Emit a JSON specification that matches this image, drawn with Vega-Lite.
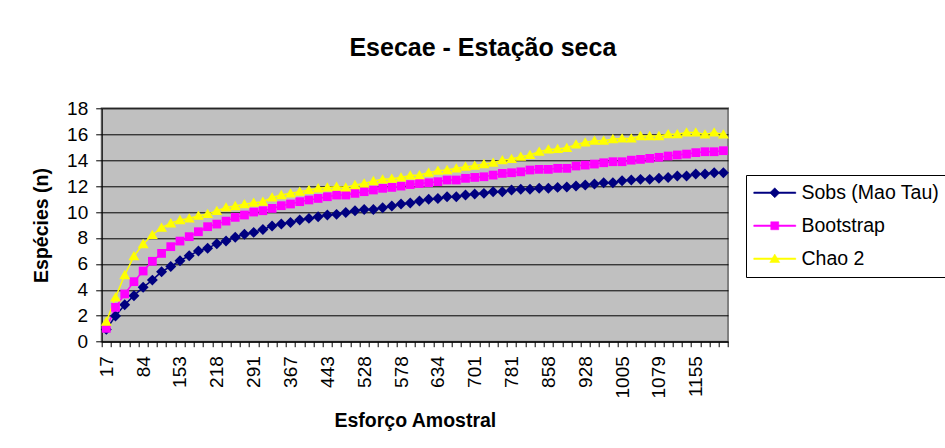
{
  "$schema": "https://vega.github.io/schema/vega-lite/v6.json",
  "autosize": {"type": "none"},
  "width": 626.3,
  "height": 233.4,
  "padding": {"left": 101.7, "top": 108.3, "right": 217, "bottom": 106.3},
  "background": "white",
  "config": {
    "font": "Liberation Sans",
    "view": {"fill": "#C0C0C0", "stroke": "#808080", "strokeWidth": 2}
  },
  "title": {
    "text": "Esecae - Estação seca",
    "anchor": "middle",
    "frame": "group",
    "dx": 68,
    "offset": 38,
    "fontSize": 25,
    "fontWeight": "bold",
    "font": "Liberation Sans",
    "color": "black"
  },
  "data": {
    "values": [
      {"e":17,"s":"Sobs (Mao Tau)","n":0.95},{"e":34,"s":"Sobs (Mao Tau)","n":1.98},{"e":51,"s":"Sobs (Mao Tau)","n":2.85},{"e":67,"s":"Sobs (Mao Tau)","n":3.55},
      {"e":84,"s":"Sobs (Mao Tau)","n":4.2},{"e":101,"s":"Sobs (Mao Tau)","n":4.75},{"e":119,"s":"Sobs (Mao Tau)","n":5.4},{"e":136,"s":"Sobs (Mao Tau)","n":5.8},
      {"e":153,"s":"Sobs (Mao Tau)","n":6.25},{"e":169,"s":"Sobs (Mao Tau)","n":6.63},{"e":186,"s":"Sobs (Mao Tau)","n":7.0},{"e":202,"s":"Sobs (Mao Tau)","n":7.2},
      {"e":218,"s":"Sobs (Mao Tau)","n":7.56},{"e":236,"s":"Sobs (Mao Tau)","n":7.76},{"e":254,"s":"Sobs (Mao Tau)","n":8.05},{"e":273,"s":"Sobs (Mao Tau)","n":8.28},
      {"e":291,"s":"Sobs (Mao Tau)","n":8.43},{"e":310,"s":"Sobs (Mao Tau)","n":8.65},{"e":329,"s":"Sobs (Mao Tau)","n":8.92},{"e":348,"s":"Sobs (Mao Tau)","n":9.07},
      {"e":367,"s":"Sobs (Mao Tau)","n":9.2},{"e":386,"s":"Sobs (Mao Tau)","n":9.38},{"e":405,"s":"Sobs (Mao Tau)","n":9.51},{"e":424,"s":"Sobs (Mao Tau)","n":9.64},
      {"e":443,"s":"Sobs (Mao Tau)","n":9.77},{"e":464,"s":"Sobs (Mao Tau)","n":9.82},{"e":486,"s":"Sobs (Mao Tau)","n":9.97},{"e":507,"s":"Sobs (Mao Tau)","n":10.1},
      {"e":528,"s":"Sobs (Mao Tau)","n":10.2},{"e":541,"s":"Sobs (Mao Tau)","n":10.2},{"e":553,"s":"Sobs (Mao Tau)","n":10.33},{"e":566,"s":"Sobs (Mao Tau)","n":10.46},
      {"e":578,"s":"Sobs (Mao Tau)","n":10.62},{"e":592,"s":"Sobs (Mao Tau)","n":10.7},{"e":606,"s":"Sobs (Mao Tau)","n":10.85},{"e":620,"s":"Sobs (Mao Tau)","n":10.98},
      {"e":634,"s":"Sobs (Mao Tau)","n":11.05},{"e":651,"s":"Sobs (Mao Tau)","n":11.18},{"e":668,"s":"Sobs (Mao Tau)","n":11.18},{"e":684,"s":"Sobs (Mao Tau)","n":11.31},
      {"e":701,"s":"Sobs (Mao Tau)","n":11.39},{"e":721,"s":"Sobs (Mao Tau)","n":11.44},{"e":741,"s":"Sobs (Mao Tau)","n":11.57},{"e":761,"s":"Sobs (Mao Tau)","n":11.57},
      {"e":781,"s":"Sobs (Mao Tau)","n":11.7},{"e":800,"s":"Sobs (Mao Tau)","n":11.75},{"e":820,"s":"Sobs (Mao Tau)","n":11.75},{"e":839,"s":"Sobs (Mao Tau)","n":11.83},
      {"e":858,"s":"Sobs (Mao Tau)","n":11.83},{"e":876,"s":"Sobs (Mao Tau)","n":11.9},{"e":893,"s":"Sobs (Mao Tau)","n":11.93},{"e":911,"s":"Sobs (Mao Tau)","n":12.0},
      {"e":928,"s":"Sobs (Mao Tau)","n":12.08},{"e":947,"s":"Sobs (Mao Tau)","n":12.16},{"e":967,"s":"Sobs (Mao Tau)","n":12.26},{"e":986,"s":"Sobs (Mao Tau)","n":12.26},
      {"e":1005,"s":"Sobs (Mao Tau)","n":12.42},{"e":1024,"s":"Sobs (Mao Tau)","n":12.47},{"e":1042,"s":"Sobs (Mao Tau)","n":12.52},{"e":1061,"s":"Sobs (Mao Tau)","n":12.52},
      {"e":1079,"s":"Sobs (Mao Tau)","n":12.6},{"e":1098,"s":"Sobs (Mao Tau)","n":12.67},{"e":1117,"s":"Sobs (Mao Tau)","n":12.78},{"e":1136,"s":"Sobs (Mao Tau)","n":12.78},
      {"e":1155,"s":"Sobs (Mao Tau)","n":12.93},{"e":1174,"s":"Sobs (Mao Tau)","n":12.93},{"e":1193,"s":"Sobs (Mao Tau)","n":13.03},{"e":1212,"s":"Sobs (Mao Tau)","n":13.03},

      {"e":17,"s":"Bootstrap","n":1.03},{"e":34,"s":"Bootstrap","n":2.65},{"e":51,"s":"Bootstrap","n":3.68},{"e":67,"s":"Bootstrap","n":4.63},
      {"e":84,"s":"Bootstrap","n":5.45},{"e":101,"s":"Bootstrap","n":6.2},{"e":119,"s":"Bootstrap","n":6.81},{"e":136,"s":"Bootstrap","n":7.33},
      {"e":153,"s":"Bootstrap","n":7.76},{"e":169,"s":"Bootstrap","n":8.1},{"e":186,"s":"Bootstrap","n":8.48},{"e":202,"s":"Bootstrap","n":8.87},
      {"e":218,"s":"Bootstrap","n":9.07},{"e":236,"s":"Bootstrap","n":9.3},{"e":254,"s":"Bootstrap","n":9.59},{"e":273,"s":"Bootstrap","n":9.77},
      {"e":291,"s":"Bootstrap","n":10.0},{"e":310,"s":"Bootstrap","n":10.1},{"e":329,"s":"Bootstrap","n":10.28},{"e":348,"s":"Bootstrap","n":10.49},
      {"e":367,"s":"Bootstrap","n":10.62},{"e":386,"s":"Bootstrap","n":10.8},{"e":405,"s":"Bootstrap","n":10.93},{"e":424,"s":"Bootstrap","n":11.05},
      {"e":443,"s":"Bootstrap","n":11.18},{"e":464,"s":"Bootstrap","n":11.31},{"e":486,"s":"Bootstrap","n":11.31},{"e":507,"s":"Bootstrap","n":11.44},
      {"e":528,"s":"Bootstrap","n":11.57},{"e":541,"s":"Bootstrap","n":11.7},{"e":553,"s":"Bootstrap","n":11.83},{"e":566,"s":"Bootstrap","n":11.9},
      {"e":578,"s":"Bootstrap","n":12.0},{"e":592,"s":"Bootstrap","n":12.12},{"e":606,"s":"Bootstrap","n":12.2},{"e":620,"s":"Bootstrap","n":12.26},
      {"e":634,"s":"Bootstrap","n":12.34},{"e":651,"s":"Bootstrap","n":12.47},{"e":668,"s":"Bootstrap","n":12.47},{"e":684,"s":"Bootstrap","n":12.6},
      {"e":701,"s":"Bootstrap","n":12.67},{"e":721,"s":"Bootstrap","n":12.72},{"e":741,"s":"Bootstrap","n":12.85},{"e":761,"s":"Bootstrap","n":12.98},
      {"e":781,"s":"Bootstrap","n":13.03},{"e":800,"s":"Bootstrap","n":13.1},{"e":820,"s":"Bootstrap","n":13.24},{"e":839,"s":"Bootstrap","n":13.29},
      {"e":858,"s":"Bootstrap","n":13.29},{"e":876,"s":"Bootstrap","n":13.37},{"e":893,"s":"Bootstrap","n":13.37},{"e":911,"s":"Bootstrap","n":13.55},
      {"e":928,"s":"Bootstrap","n":13.62},{"e":947,"s":"Bootstrap","n":13.7},{"e":967,"s":"Bootstrap","n":13.8},{"e":986,"s":"Bootstrap","n":13.88},
      {"e":1005,"s":"Bootstrap","n":13.88},{"e":1024,"s":"Bootstrap","n":14.0},{"e":1042,"s":"Bootstrap","n":14.06},{"e":1061,"s":"Bootstrap","n":14.14},
      {"e":1079,"s":"Bootstrap","n":14.22},{"e":1098,"s":"Bootstrap","n":14.32},{"e":1117,"s":"Bootstrap","n":14.4},{"e":1136,"s":"Bootstrap","n":14.47},
      {"e":1155,"s":"Bootstrap","n":14.58},{"e":1174,"s":"Bootstrap","n":14.65},{"e":1193,"s":"Bootstrap","n":14.65},{"e":1212,"s":"Bootstrap","n":14.73},

      {"e":17,"s":"Chao 2","n":1.54},{"e":34,"s":"Chao 2","n":3.42},{"e":51,"s":"Chao 2","n":5.14},{"e":67,"s":"Chao 2","n":6.6},
      {"e":84,"s":"Chao 2","n":7.53},{"e":101,"s":"Chao 2","n":8.23},{"e":119,"s":"Chao 2","n":8.8},{"e":136,"s":"Chao 2","n":9.13},
      {"e":153,"s":"Chao 2","n":9.38},{"e":169,"s":"Chao 2","n":9.5},{"e":186,"s":"Chao 2","n":9.72},{"e":202,"s":"Chao 2","n":9.85},
      {"e":218,"s":"Chao 2","n":10.08},{"e":236,"s":"Chao 2","n":10.36},{"e":254,"s":"Chao 2","n":10.46},{"e":273,"s":"Chao 2","n":10.6},
      {"e":291,"s":"Chao 2","n":10.72},{"e":310,"s":"Chao 2","n":10.8},{"e":329,"s":"Chao 2","n":11.13},{"e":348,"s":"Chao 2","n":11.31},
      {"e":367,"s":"Chao 2","n":11.44},{"e":386,"s":"Chao 2","n":11.57},{"e":405,"s":"Chao 2","n":11.7},{"e":424,"s":"Chao 2","n":11.83},
      {"e":443,"s":"Chao 2","n":11.9},{"e":464,"s":"Chao 2","n":11.95},{"e":486,"s":"Chao 2","n":11.9},{"e":507,"s":"Chao 2","n":12.08},
      {"e":528,"s":"Chao 2","n":12.2},{"e":541,"s":"Chao 2","n":12.39},{"e":553,"s":"Chao 2","n":12.52},{"e":566,"s":"Chao 2","n":12.57},
      {"e":578,"s":"Chao 2","n":12.67},{"e":592,"s":"Chao 2","n":12.82},{"e":606,"s":"Chao 2","n":12.85},{"e":620,"s":"Chao 2","n":13.03},
      {"e":634,"s":"Chao 2","n":13.19},{"e":651,"s":"Chao 2","n":13.24},{"e":668,"s":"Chao 2","n":13.37},{"e":684,"s":"Chao 2","n":13.5},
      {"e":701,"s":"Chao 2","n":13.57},{"e":721,"s":"Chao 2","n":13.7},{"e":741,"s":"Chao 2","n":13.8},{"e":761,"s":"Chao 2","n":14.0},
      {"e":781,"s":"Chao 2","n":14.09},{"e":800,"s":"Chao 2","n":14.27},{"e":820,"s":"Chao 2","n":14.4},{"e":839,"s":"Chao 2","n":14.65},
      {"e":858,"s":"Chao 2","n":14.83},{"e":876,"s":"Chao 2","n":14.86},{"e":893,"s":"Chao 2","n":14.95},{"e":911,"s":"Chao 2","n":15.22},
      {"e":928,"s":"Chao 2","n":15.37},{"e":947,"s":"Chao 2","n":15.5},{"e":967,"s":"Chao 2","n":15.5},{"e":986,"s":"Chao 2","n":15.63},
      {"e":1005,"s":"Chao 2","n":15.68},{"e":1024,"s":"Chao 2","n":15.68},{"e":1042,"s":"Chao 2","n":15.86},{"e":1061,"s":"Chao 2","n":15.86},
      {"e":1079,"s":"Chao 2","n":15.86},{"e":1098,"s":"Chao 2","n":16.0},{"e":1117,"s":"Chao 2","n":16.0},{"e":1136,"s":"Chao 2","n":16.14},
      {"e":1155,"s":"Chao 2","n":16.14},{"e":1174,"s":"Chao 2","n":15.99},{"e":1193,"s":"Chao 2","n":16.14},{"e":1212,"s":"Chao 2","n":15.99}
    ]
  },
  "encoding": {
    "x": {
      "field": "e",
      "type": "ordinal",
      "scale": {"type": "band", "paddingInner": 0, "paddingOuter": 0},
      "axis": {
        "title": "Esforço Amostral",
        "labelAngle": -90,
        "labelExpr": "indexof([17,84,153,218,291,367,443,528,578,634,701,781,858,928,1005,1079,1155], datum.value) >= 0 ? datum.label : ''",
        "labelOverlap": false,
        "labelFont": "Liberation Sans",
        "labelFontSize": 19,
        "labelColor": "black",
        "labelPadding": 9,
        "tickBand": "extent",
        "tickColor": "black",
        "tickSize": 5,
        "domainColor": "black",
        "domainWidth": 1,
        "grid": false,
        "titleFont": "Liberation Sans",
        "titleFontSize": 19.5,
        "titleFontWeight": "bold",
        "titleColor": "black",
        "titlePadding": 14
      }
    },
    "y": {
      "field": "n",
      "type": "quantitative",
      "scale": {"domain": [0, 18], "nice": false},
      "axis": {
        "title": "Espécies (n)",
        "values": [0, 2, 4, 6, 8, 10, 12, 14, 16, 18],
        "grid": true,
        "gridColor": "black",
        "gridOpacity": 1,
        "gridWidth": 1,
        "tickColor": "black",
        "tickSize": 6,
        "domainColor": "black",
        "labelFont": "Liberation Sans",
        "labelFontSize": 19,
        "labelColor": "black",
        "labelPadding": 8,
        "titleFont": "Liberation Sans",
        "titleFontSize": 19.5,
        "titleFontWeight": "bold",
        "titleColor": "black",
        "titlePadding": 15
      }
    },
    "color": {
      "field": "s",
      "type": "nominal",
      "scale": {"domain": ["Sobs (Mao Tau)", "Bootstrap", "Chao 2"], "range": ["#000080", "#FF00FF", "#FFFF00"]},
      "legend": {
        "orient": "none",
        "legendX": 644.3,
        "legendY": 66.7,
        "title": null,
        "strokeColor": "black",
        "fillColor": "white",
        "padding": 8,
        "rowPadding": 12,
        "symbolSize": 100,
        "symbolStrokeWidth": 1.5,
        "symbolOffset": 11,
        "labelOffset": 17,
        "labelFont": "Liberation Sans",
        "labelFontSize": 19.5,
        "labelColor": "black",
        "labelLimit": 250,
        "encode": {
          "symbols": {
            "update": {
              "shape": {"signal": "datum.value === 'Sobs (Mao Tau)' ? 'M-4.2,-0.15L4.2,-0.15L4.2,0.15L-4.2,0.15ZM0,-1L1,0L0,1L-1,0Z' : datum.value === 'Bootstrap' ? 'M-4.2,-0.15L4.2,-0.15L4.2,0.15L-4.2,0.15ZM-0.8,-0.8L0.8,-0.8L0.8,0.8L-0.8,0.8Z' : 'M-4.2,-0.15L4.2,-0.15L4.2,0.15L-4.2,0.15ZM0,-0.95L1,0.75L-1,0.75Z'"},
              "stroke": {"scale": "color", "field": "value"},
              "fill": {"scale": "color", "field": "value"},
              "strokeWidth": {"value": 0.5},
              "size": {"value": 100},
              "opacity": {"value": 1},
              "fillOpacity": {"value": 1}
            }
          }
        }
      }
    }
  },
  "layer": [
    {
      "mark": {"type": "line", "strokeWidth": 1.5}
    },
    {
      "transform": [{"filter": "datum.s === 'Sobs (Mao Tau)'"}],
      "mark": {"type": "point", "filled": true, "opacity": 1, "strokeWidth": 0, "size": 120, "shape": "M0,-1L1,0L0,1L-1,0Z"}
    },
    {
      "transform": [{"filter": "datum.s === 'Bootstrap'"}],
      "mark": {"type": "point", "filled": true, "opacity": 1, "strokeWidth": 0, "size": 120, "shape": "M-0.8,-0.8L0.8,-0.8L0.8,0.8L-0.8,0.8Z"}
    },
    {
      "transform": [{"filter": "datum.s === 'Chao 2'"}],
      "mark": {"type": "point", "filled": true, "opacity": 1, "strokeWidth": 0, "size": 120, "shape": "M0,-0.95L1,0.75L-1,0.75Z"}
    }
  ]
}
